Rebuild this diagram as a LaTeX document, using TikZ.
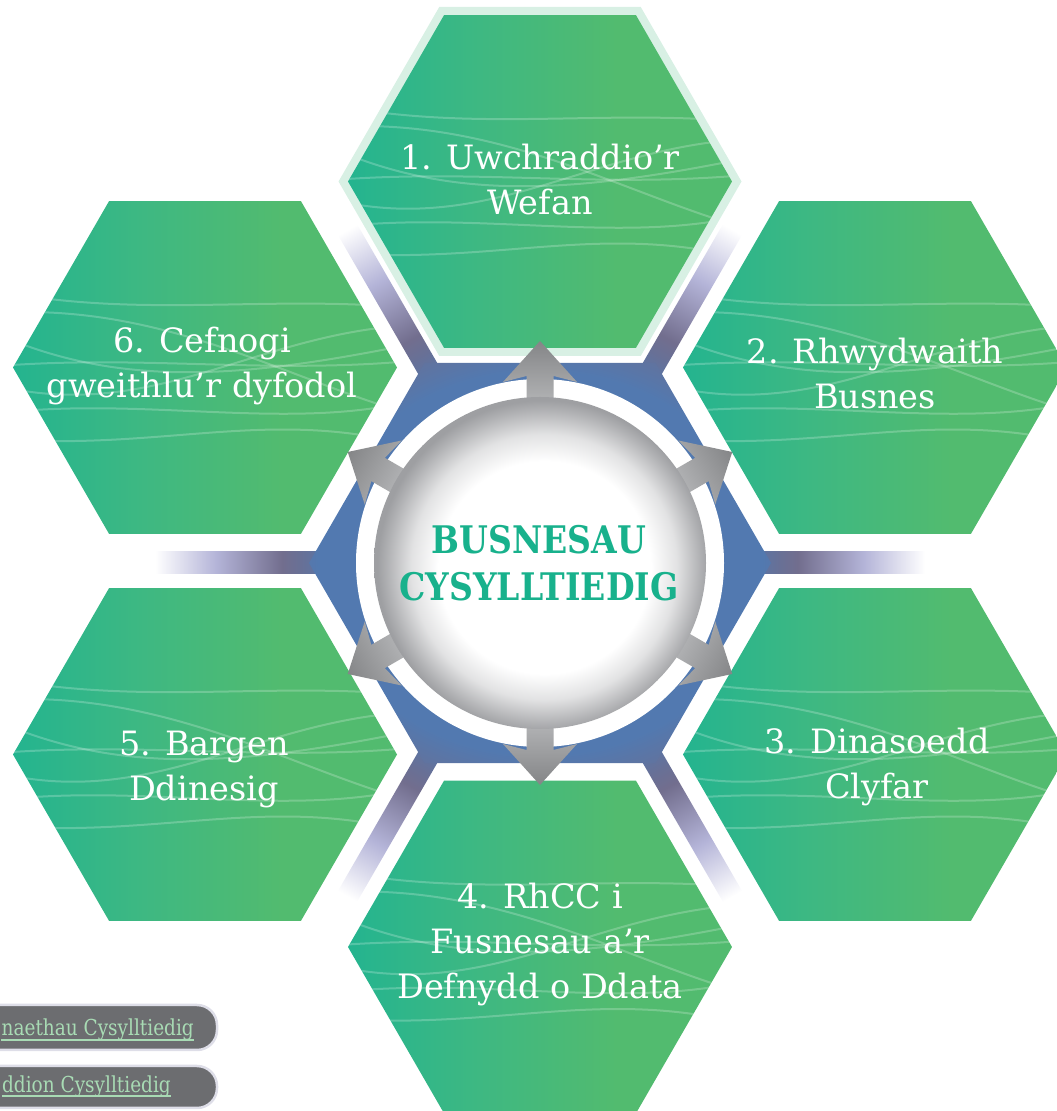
\documentclass[tikz,border=0pt]{standalone}
\usepackage{fontspec}
\setmainfont{DejaVu Serif}
\newfontfamily\hubfont{DejaVu Serif}[FakeStretch=0.87]
\newfontfamily\btnfont{DejaVu Serif}[FakeStretch=0.84]
\usetikzlibrary{shapes.geometric}

\definecolor{hexteal}{RGB}{36,180,143}
\definecolor{hexmid}{RGB}{62,184,130}
\definecolor{hexgreen}{RGB}{82,187,111}
\definecolor{hexmint}{RGB}{216,240,228}
\definecolor{hexblue}{RGB}{82,121,176}
\definecolor{hexpurple}{RGB}{104,112,150}
\definecolor{spokedark}{RGB}{114,110,142}
\definecolor{spokelav}{RGB}{180,180,216}
\definecolor{hubgray}{RGB}{158,159,162}
\definecolor{hubteal}{RGB}{24,177,140}
\definecolor{arrowlight}{RGB}{186,187,189}
\definecolor{arrowdark}{RGB}{132,133,135}
\definecolor{btngray}{RGB}{108,109,112}
\definecolor{btnedge}{RGB}{222,222,232}
\definecolor{btntext}{RGB}{168,219,180}

\pgfdeclarehorizontalshading{hexfill}{100bp}{color(0bp)=(hexteal); color(25bp)=(hexteal); color(42bp)=(hexmid); color(60bp)=(hexgreen); color(100bp)=(hexgreen)}
\pgfdeclarehorizontalshading{spokefade}{100bp}{color(0bp)=(hexblue); color(36bp)=(hexblue); color(44bp)=(hexpurple); color(48bp)=(spokedark); color(62bp)=(spokelav); color(75bp)=(white); color(100bp)=(white)}
\pgfdeclareradialshading{coreshade}{\pgfpoint{0bp}{0bp}}{color(0bp)=(hexblue); color(24bp)=(hexblue); color(30bp)=(hexpurple); color(50bp)=(hexpurple)}
\pgfdeclareradialshading{hubglow}{\pgfpoint{1bp}{-1bp}}{color(0bp)=(white); color(16bp)=(white); color(20bp)=(hubgray!30); color(23.5bp)=(hubgray!80); color(25bp)=(hubgray); color(50bp)=(hubgray)}

\tikzset{
  hexbox/.style={regular polygon, regular polygon sides=6, minimum size=384pt,
    inner sep=0pt, outer sep=0pt, shade, shading=hexfill},
  hexlabel/.style={text=white, align=center, font=\fontsize{33.5}{45}\selectfont},
  wave/.style={white, opacity=.22, line width=2pt},
  fatarrow/.style={left color=arrowlight, right color=arrowdark},
  button/.style={fill=btngray, draw=btnedge, line width=2.5pt, rounded corners=20pt},
  btnlabel/.style={text=btntext, font=\btnfont\fontsize{22}{25}\selectfont,
    inner sep=0pt, anchor=base east},
}

\begin{document}
\begin{tikzpicture}[x=1pt,y=1pt]

    \useasboundingbox (0,0) rectangle (1057,1111);
    \clip (0,0) rectangle (1057,1111);
    \coordinate (C) at (540,548);

    % spokes between the hexagons
    \foreach \a in {0,60,...,300}{
        \begin{scope}[transform canvas={shift={(C)},rotate=\a}]
            \shade[shading=spokefade] (150,-11) rectangle (385,11);
        \end{scope}
    }
    \node[regular polygon, regular polygon sides=6, minimum size=462pt,
        inner sep=0pt, shade, shading=coreshade] (core) at (C) {};

    % outer hexagons
    \node[regular polygon, regular polygon sides=6, minimum size=403pt,
        inner sep=0pt, fill=hexmint] (ring1) at (540,929.5) {};
    \node[hexbox] (h1) at (540,929.5) {};
    \node[hexbox] (h2) at (875,743.5) {};
    \node[hexbox] (h3) at (875,356.5) {};
    \node[hexbox] (h4) at (540,164)   {};
    \node[hexbox] (h5) at (205,356.5) {};
    \node[hexbox] (h6) at (205,743.5) {};

    \foreach \i in {1,...,6}{
        \begin{scope}
            \clip (h\i.corner 1) -- (h\i.corner 2) -- (h\i.corner 3)
                -- (h\i.corner 4) -- (h\i.corner 5) -- (h\i.corner 6) -- cycle;
            \begin{scope}[shift={(h\i.center)}]
                \draw[wave] (-200,75) .. controls (-60,50) and (60,72) .. (200,60);
                \draw[wave] (-200,55) .. controls (-40,62) and (80,-10) .. (200,-45);
                \draw[wave] (-200,30) .. controls (-80,-20) and (40,-10) .. (200,22);
                \draw[wave] (-200,2) .. controls (-60,12) and (60,-6) .. (200,6);
                \draw[wave] (-200,-20) .. controls (-50,-52) and (50,32) .. (200,42);
                \draw[wave] (-200,-45) .. controls (-60,-30) and (80,-62) .. (200,-35);
                \draw[wave] (-200,-72) .. controls (-40,-82) and (60,-42) .. (200,-76);
            \end{scope}
        \end{scope}
    }

    \node[hexlabel] (t1) at (540,931) {1. Uwchraddio’r\\Wefan};
    \node[hexlabel] (t2) at (875,737) {2. Rhwydwaith\\Busnes};
    \node[hexlabel] (t3) at (877,344) {3. Dinasoedd\\Clyfar};
    \node[hexlabel] (t4) at (540,167) {4. RhCC i\\Fusnesau a’r\\Defnydd o Ddata};
    \node[hexlabel] (t5) at (204,341) {5. Bargen\\Ddinesig};
    \node[hexlabel] (t6) at (202,745) {6. Cefnogi\\gweithlu’r dyfodol};

    % hub and arrows
    \node[circle, minimum size=368pt, inner sep=0pt, fill=white] (halo) at (C) {};
    \foreach \a in {90,30,-30,-90,-150,150}{
        \begin{scope}[transform canvas={shift={(C)},rotate=\a}]
            \shade[fatarrow] (150,-13.5) -- (187,-13.5) -- (181,-37) -- (222,0)
                -- (181,37) -- (187,13.5) -- (150,13.5) -- cycle;
        \end{scope}
    }
    \node[circle, minimum size=332pt, inner sep=0pt, shade, shading=hubglow] (hub) at (C) {};
    \node[text=hubteal, align=center, font=\hubfont\bfseries\fontsize{38}{47}\selectfont]
        (hubtext) at (539,548) {BUSNESAU\\CYSYLLTIEDIG};

    % links bottom left
    \draw[button] (-40,61) rectangle (217,106);
    \draw[button] (-40,3) rectangle (217,45);
    \node[btnlabel] (b1) at (194,75) {naethau Cysylltiedig};
    \node[btnlabel] (b2) at (171,19) {ddion Cysylltiedig};
    \draw[btntext, line width=1.5pt] ([yshift=-4pt]b1.base west) -- ([yshift=-4pt]b1.base east);
    \draw[btntext, line width=1.5pt] ([yshift=-4pt]b2.base west) -- ([yshift=-4pt]b2.base east);

\end{tikzpicture}
\end{document}
